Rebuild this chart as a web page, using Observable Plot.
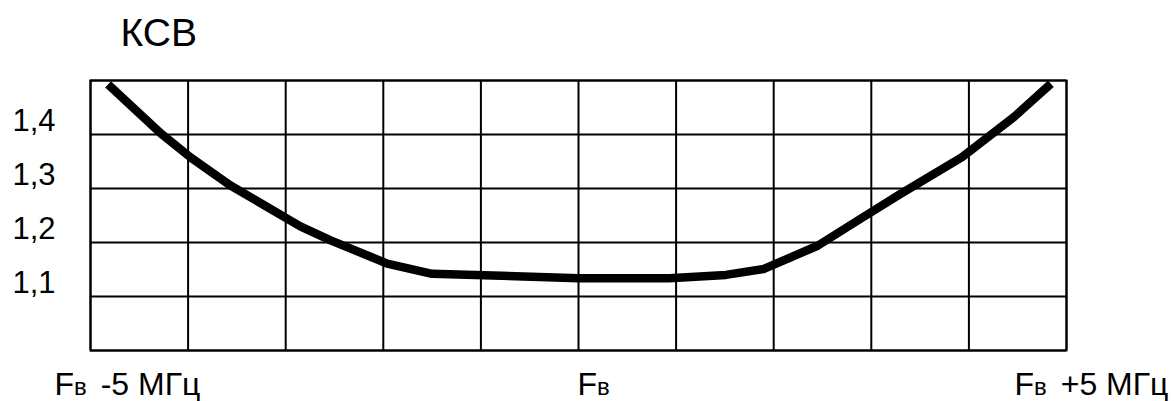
<!DOCTYPE html>
<html><head><meta charset="utf-8">
<script src="https://cdn.jsdelivr.net/npm/d3@7"></script>
<script src="https://cdn.jsdelivr.net/npm/@observablehq/plot@0.6"></script>
<style>
body{margin:0;background:#fff}
svg{display:block}
.xlab text{white-space:pre}
</style>
</head><body><div id="chart"></div>
<script>
// Data
const freqMHz = [-4.82, -4.28, -3.97, -3.57, -2.85, -2.54, -1.96, -1.50, 0, 0.93, 1.51, 1.90, 2.45, 2.89, 3.30, 3.93, 4.46, 4.84];
const swr     = [1.493, 1.402, 1.357, 1.306, 1.230, 1.204, 1.161, 1.142, 1.134, 1.134, 1.140, 1.151, 1.194, 1.244, 1.290, 1.358, 1.432, 1.494];
const yTicks = [1.1, 1.2, 1.3, 1.4];
const yTickLabels = ["1,1", "1,2", "1,3", "1,4"];
const yGrid = [1.0, 1.1, 1.2, 1.3, 1.4, 1.5];
const xGrid = [-5, -4, -3, -2, -1, 0, 1, 2, 3, 4, 5];
const xTicks = [-5, 0, 5];
const xTickLabels = ["Fв -5 МГц", "Fв", "Fв +5 МГц"];
const title = "КСВ";

const data = freqMHz.map((f, i) => ({f, v: swr[i]}));
const labelDx = [-36, -1, -52];

const xLabelMarks = xTicks.map((t, i) => Plot.text([i], {
  x: j => xTicks[j], text: j => xTickLabels[j],
  frameAnchor: "bottom", textAnchor: "start", lineAnchor: "bottom",
  dx: labelDx[i], dy: 44, fontSize: 32, fill: "#000", className: "xlab"
}));

const chart = Plot.plot({
  width: 1174, height: 401,
  marginLeft: 90, marginRight: 108, marginTop: 80, marginBottom: 51,
  style: {fontFamily: "'Liberation Sans', Arial, sans-serif", background: "#fff", color: "#000"},
  x: {domain: [-5, 5], axis: null},
  y: {domain: [1.0, 1.5], axis: null},
  marks: [
    Plot.gridX(xGrid, {stroke: "#000", strokeOpacity: 1, strokeWidth: 2}),
    Plot.gridY(yGrid, {stroke: "#000", strokeOpacity: 1, strokeWidth: 2}),
    Plot.frame({stroke: "#000", strokeWidth: 2}),
    Plot.line(data, {x: "f", y: "v", stroke: "#000", strokeWidth: 8.5, strokeLinecap: "butt", strokeLinejoin: "round"}),
    Plot.axisY(yTicks, {tickSize: 0, tickPadding: 35, label: null, fontSize: 31, dy: -13,
      tickFormat: d => yTickLabels[yTicks.indexOf(d)]}),
    ...xLabelMarks,
    Plot.text([title], {frameAnchor: "top-left", textAnchor: "start", lineAnchor: "bottom",
      dx: 30, dy: -35, fontSize: 39, fill: "#000"})
  ]
});

d3.select(chart).selectAll(".xlab text").each(function () {
  const t = this.textContent;
  const sel = d3.select(this);
  sel.text(null);
  sel.append("tspan").text(t[0]);
  sel.append("tspan").attr("font-size", 24).text(t[1]);
  if (t.length > 2) sel.append("tspan").attr("dx", 5).text(t.slice(2));
});

document.getElementById("chart").appendChild(chart);
</script>
</body></html>
